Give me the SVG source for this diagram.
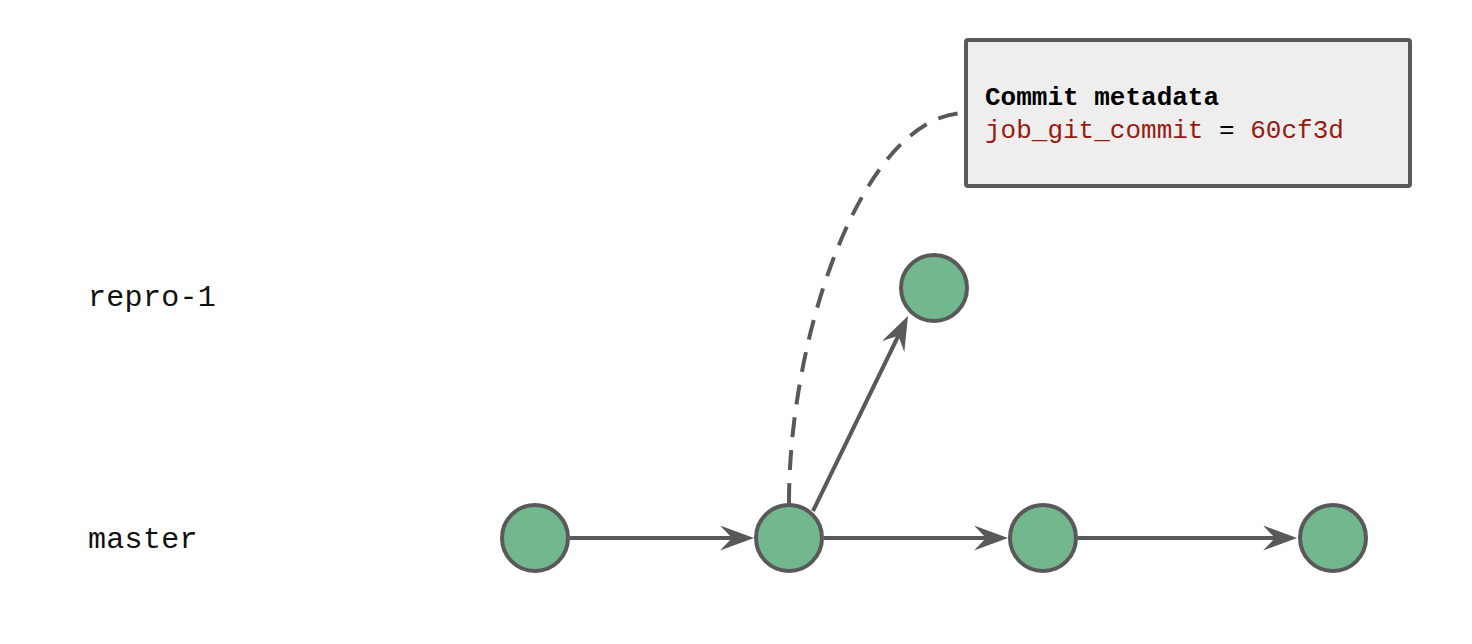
<svg xmlns="http://www.w3.org/2000/svg" width="1472" height="644" viewBox="0 0 1472 644">
<style>
.commit{fill:#72b78e;stroke:#595959;stroke-width:4}
.edge{fill:none;stroke:#595959;stroke-width:4}
.dash{fill:none;stroke:#595959;stroke-width:4;stroke-dasharray:20 13}
.lbl{font-family:"Liberation Mono","DejaVu Sans Mono",monospace;font-size:30px;fill:#111;letter-spacing:0.3px}
.meta{font-family:"Liberation Mono","DejaVu Sans Mono",monospace;font-size:26px}
.red{fill:#941c11}
</style>
<defs>
<marker id="arr" viewBox="0 0 34 25" markerWidth="34" markerHeight="25" markerUnits="userSpaceOnUse" refX="24" refY="12.5" orient="auto">
<path d="M0,0 L34,12.5 L0,25 L12,12.5 Z" fill="#595959"/>
</marker>
</defs>
<rect width="1472" height="644" fill="#ffffff"/>
<g id="labels">
<text class="lbl" x="88" y="306">repro-1</text>
<text class="lbl" x="88" y="548">master</text>
</g>
<g id="connectors">
<path class="dash" d="M789,503 C789,330 865,113 966,113"/>
<line class="edge" x1="570" y1="538" x2="744" y2="538" marker-end="url(#arr)"/>
<line class="edge" x1="824" y1="538" x2="998" y2="538" marker-end="url(#arr)"/>
<line class="edge" x1="1078" y1="538" x2="1287" y2="538" marker-end="url(#arr)"/>
<line class="edge" x1="813" y1="511" x2="903.6" y2="325" marker-end="url(#arr)"/>
</g>
<g id="c1"><circle class="commit" cx="535" cy="538" r="33"/></g>
<g id="c2"><circle class="commit" cx="789" cy="538" r="33"/></g>
<g id="c3"><circle class="commit" cx="1043" cy="538" r="33"/></g>
<g id="c4"><circle class="commit" cx="1333" cy="538" r="33"/></g>
<g id="c5"><circle class="commit" cx="934" cy="288" r="33"/></g>
<g id="metadata">
<rect x="966" y="40" width="444" height="146" rx="2" fill="#eeeeee" stroke="#595959" stroke-width="4"/>
<text class="meta" x="985" y="105" font-weight="bold" fill="#000">Commit metadata</text>
<text class="meta" x="985" y="138"><tspan class="red">job_git_commit</tspan><tspan fill="#000"> = </tspan><tspan class="red">60cf3d</tspan></text>
</g>
</svg>
